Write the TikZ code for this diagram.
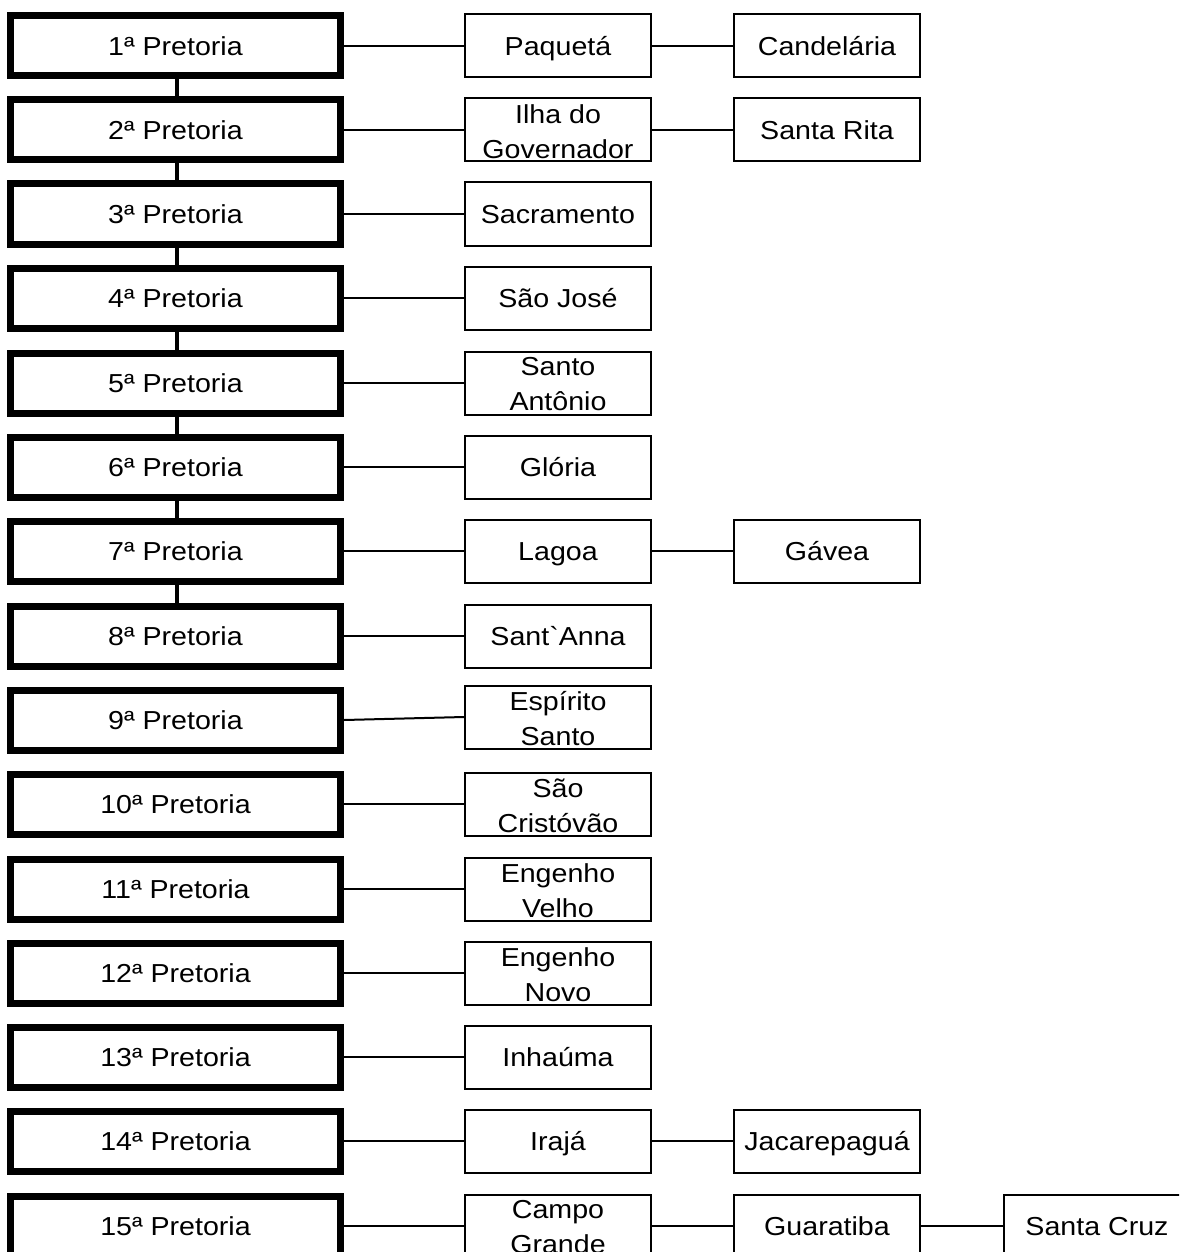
\documentclass[tikz,border=0pt]{standalone}
\usepackage{fontspec}
\setmainfont[FakeStretch=1.1,Ligatures=TeXOff]{Liberation Sans}
\begin{document}
\begin{tikzpicture}[x=1pt,y=-1pt,
  every node/.style={font=\fontsize{26}{35}\selectfont, inner sep=0pt},
  pbox/.style={draw, line width=7pt, minimum width=330pt, minimum height=60pt, text height=19pt, text depth=0pt},
  box/.style={draw, line width=2pt, minimum width=186pt, minimum height=63pt},
  sbox/.style={box, text height=19pt, text depth=0pt},
  lbl/.style={align=center, inner sep=0pt, yshift=-1.5pt},
  dbox/.style={box, label={[lbl]center:{#1}}},
  vlink/.style={line width=4pt},
  hlink/.style={line width=2pt}]
\clip (0,0) rectangle (1179,1252);
\fill[white] (0,0) rectangle (1179,1252);
% left column
\foreach \i in {1,...,15}
  \node[pbox] (p\i) at (175.5,{round(45.5+84.3*(\i-1))}) {{\i}ª Pretoria};
\foreach \i in {1,...,7}{
  \pgfmathtruncatemacro{\j}{\i+1}
  \draw[vlink] ([xshift=1.5pt]p\i.south) -- ([xshift=1.5pt]p\j.north);
}
% middle column
\def\ry#1{round(45.5+84.3*(#1-1))}
\node[sbox] (m1) at (558,{\ry{1}}) {Paquetá};
\node[dbox={Ilha do\\Governador}] (m2) at (558,{\ry{2}}) {};
\node[sbox] (m3) at (558,{\ry{3}}) {Sacramento};
\node[sbox] (m4) at (558,{\ry{4}}) {São José};
\node[dbox={Santo\\Antônio}] (m5) at (558,{\ry{5}}) {};
\node[sbox] (m6) at (558,{\ry{6}}) {Glória};
\node[sbox] (m7) at (558,{\ry{7}}) {Lagoa};
\node[sbox] (m8) at (558,{\ry{8}}) {Sant`Anna};
\node[dbox={Espírito\\Santo}] (m9) at (558,{\ry{9}-3}) {};
\node[dbox={São\\Cristóvão}] (m10) at (558,{\ry{10}}) {};
\node[dbox={Engenho\\Velho}] (m11) at (558,{\ry{11}}) {};
\node[dbox={Engenho\\Novo}] (m12) at (558,{\ry{12}}) {};
\node[sbox] (m13) at (558,{\ry{13}}) {Inhaúma};
\node[sbox] (m14) at (558,{\ry{14}}) {Irajá};
\node[dbox={Campo\\Grande}] (m15) at (558,{\ry{15}}) {};
\foreach \i in {1,...,15}
  \draw[hlink] (p\i.east) -- (m\i.west);
% right column
\node[sbox] (r1) at (827,{\ry{1}}) {Candelária};
\node[sbox] (r2) at (827,{\ry{2}}) {Santa Rita};
\node[sbox] (r7) at (827,{\ry{7}}) {Gávea};
\node[sbox] (r14) at (827,{\ry{14}}) {Jacarepaguá};
\node[sbox] (r15) at (827,{\ry{15}}) {Guaratiba};
\node[sbox] (s15) at (1097,{\ry{15}}) {Santa Cruz};
\foreach \i in {1,2,7,14,15}
  \draw[hlink] (m\i.east) -- (r\i.west);
\draw[hlink] (r15.east) -- (s15.west);
\end{tikzpicture}
\end{document}
